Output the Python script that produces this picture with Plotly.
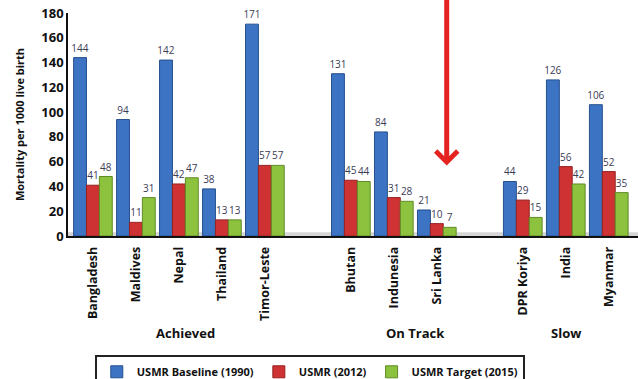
import plotly.graph_objects as go

countries = ["Bangladesh", "Maldives", "Nepal", "Thailand", "Timor-Leste",
             "Bhutan", "Indunesia", "Sri Lanka",
             "DPR Koriya", "India", "Myanmar"]
positions = [0, 1, 2, 3, 4, 6, 7, 8, 10, 11, 12]
baseline_1990 = [144, 94, 142, 38, 171, 131, 84, 21, 44, 126, 106]
usmr_2012 = [41, 11, 42, 13, 57, 45, 31, 10, 29, 56, 52]
target_2015 = [48, 31, 47, 13, 57, 44, 28, 7, 15, 42, 35]
groups = ["Achieved", "On Track", "Slow"]
group_centers = [2.15, 7.5, 11]
series_names = ["USMR Baseline (1990)", "USMR (2012)", "USMR Target (2015)"]
colors = ["#3c73c2", "#cf3232", "#8dc23e"]
edge_colors = ["#26508f", "#962222", "#5f8a25"]
y_ticks = list(range(0, 181, 20))

fig = go.Figure()
for name, vals, c, ec in zip(series_names, [baseline_1990, usmr_2012, target_2015], colors, edge_colors):
    fig.add_trace(go.Bar(
        x=positions, y=vals, name="<b>%s</b>" % name,
        marker=dict(color=c, line=dict(color=ec, width=1)),
        text=[str(v) for v in vals], textposition="outside", constraintext="none",
        textfont=dict(size=10, color="#3b3b55", family="Open Sans"),
        cliponaxis=False,
    ))

fig.add_shape(type="rect", xref="x", yref="y", x0=-0.58, x1=12.7, y0=0, y1=3,
              fillcolor="#d6d6d6", line=dict(width=0), layer="below")

for g, cx in zip(groups, group_centers):
    fig.add_annotation(x=cx, y=-0.435, xref="x", yref="paper", text="<b>%s</b>" % g,
                       showarrow=False, font=dict(size=13, color="#111", family="Open Sans"),
                       xanchor="center", yanchor="middle")

fig.add_annotation(x=8.23, y=57, xref="x", yref="y", axref="x", ayref="y",
                   ax=8.23, ay=192, text="", showarrow=True, arrowhead=4,
                   arrowsize=0.85, arrowwidth=5, arrowcolor="#e52320")

fig.update_layout(
    width=638, height=379,
    margin=dict(l=68, r=0, t=13, b=143, autoexpand=False),
    paper_bgcolor="white", plot_bgcolor="white",
    barmode="group", bargap=0.1, bargroupgap=0,
    font=dict(family="Open Sans", color="#111"),
    showlegend=True,
    legend=dict(orientation="h", x=0.047, xanchor="left", y=-0.535, yanchor="top",
                bordercolor="#222", borderwidth=2, font=dict(size=11, family="Open Sans"),
                traceorder="normal", itemwidth=30),
    xaxis=dict(range=[-0.58, 12.68], tickvals=positions,
               ticktext=["<b>%s</b>" % c for c in countries], tickangle=-90,
               tickfont=dict(size=12.5, family="Open Sans", color="#111"),
               ticklabelstandoff=4,
               showline=True, linecolor="#111", linewidth=1.5, ticks="",
               showgrid=False, zeroline=False),
    yaxis=dict(range=[0, 180], tickvals=y_ticks,
               ticktext=["<b>%d</b>" % v for v in y_ticks],
               tickfont=dict(size=13, family="Open Sans", color="#111"),
               showline=True, linecolor="#111", linewidth=1.5, ticks="",
               showgrid=False, zeroline=False,
               title=dict(text="<b>Mortality per 1000 live birth</b>",
                          font=dict(size=11, family="Open Sans", color="#111"), standoff=14)),
)

fig.write_html("out.html")
